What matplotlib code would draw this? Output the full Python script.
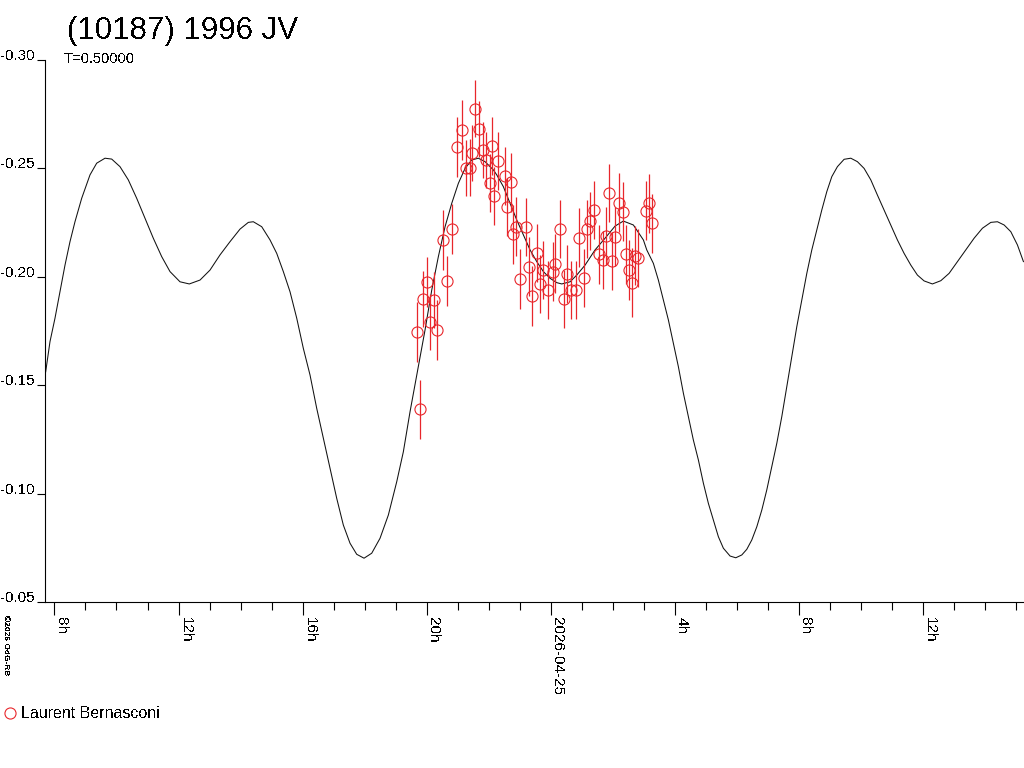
import numpy as np
import matplotlib
matplotlib.use("Agg")
import matplotlib.pyplot as plt
from matplotlib.lines import Line2D

plt.rcParams['font.family'] = ['Liberation Sans', 'DejaVu Sans']
plt.rcParams['axes.unicode_minus'] = False
plt.rcParams['text.antialiased'] = False

# observations (hours since 2026-04-24 00:00 UT, relative magnitude)
obs_hours = [19.70, 19.79, 19.90, 20.01, 20.11, 20.24, 20.35, 20.54, 20.67, 20.81,
             20.97, 21.14, 21.26, 21.40, 21.48, 21.57, 21.69, 21.81, 21.92, 22.05,
             22.12, 22.19, 22.32, 22.52, 22.59, 22.72, 22.80, 22.89, 23.02, 23.22,
             23.31, 23.41, 23.55, 23.66, 23.77, 23.93, 24.07, 24.15, 24.31, 24.44,
             24.52, 24.65, 24.82, 24.93, 25.09, 25.19, 25.28, 25.41, 25.57, 25.68,
             25.79, 25.89, 25.99, 26.08, 26.21, 26.33, 26.44, 26.53, 26.64, 26.73,
             26.83, 27.08, 27.18, 27.28]
obs_mag = [-0.1746, -0.1389, -0.1898, -0.1978, -0.1791, -0.1894, -0.1754, -0.2170, -0.1980, -0.2219,
           -0.2600, -0.2677, -0.2501, -0.2504, -0.2570, -0.2775, -0.2682, -0.2585, -0.2539, -0.2432,
           -0.2604, -0.2373, -0.2534, -0.2465, -0.2321, -0.2436, -0.2196, -0.2232, -0.1989, -0.2229,
           -0.2047, -0.1912, -0.2109, -0.1967, -0.2032, -0.1940, -0.2024, -0.2061, -0.2222, -0.1897,
           -0.2013, -0.1940, -0.1940, -0.2181, -0.1994, -0.2221, -0.2258, -0.2309, -0.2104, -0.2078,
           -0.2189, -0.2388, -0.2073, -0.2185, -0.2342, -0.2301, -0.2104, -0.2032, -0.1973, -0.2098,
           -0.2086, -0.2305, -0.2339, -0.2247]
obs_err = [0.0138, 0.0137, 0.0130, 0.0115, 0.0130, 0.0130, 0.0138, 0.0138, 0.0115, 0.0115,
           0.0138, 0.0138, 0.0130, 0.0130, 0.0130, 0.0131, 0.0130, 0.0130, 0.0130, 0.0135,
           0.0135, 0.0135, 0.0135, 0.0135, 0.0135, 0.0135, 0.0135, 0.0135, 0.0138, 0.0135,
           0.0135, 0.0138, 0.0135, 0.0135, 0.0135, 0.0135, 0.0135, 0.0135, 0.0134, 0.0135,
           0.0135, 0.0135, 0.0135, 0.0135, 0.0135, 0.0135, 0.0135, 0.0135, 0.0135, 0.0135,
           0.0135, 0.0134, 0.0135, 0.0135, 0.0135, 0.0135, 0.0135, 0.0140, 0.0160, 0.0135,
           0.0135, 0.0135, 0.0135, 0.0135]

# fitted model curve
fit_hours = [7.716, 7.855, 8.016, 8.177, 8.339, 8.500, 8.661, 8.877, 9.145, 9.361,
             9.629, 9.845, 10.113, 10.381, 10.652, 10.919, 11.187, 11.458, 11.726, 12.048,
             12.348, 12.694, 13.016, 13.339, 13.661, 13.984, 14.252, 14.413, 14.684, 14.952,
             15.168, 15.381, 15.597, 15.813, 16.026, 16.242, 16.458, 16.671, 16.887, 17.103,
             17.316, 17.532, 17.748, 17.984, 18.232, 18.500, 18.768, 19.039, 19.252, 19.468,
             19.684, 19.952, 20.168, 20.381, 20.597, 20.813, 21.026, 21.242, 21.458, 21.671,
             21.887, 22.155, 22.265, 22.477, 22.694, 22.910, 23.123, 23.339, 23.555, 23.768,
             23.984, 24.200, 24.361, 24.629, 24.845, 25.113, 25.435, 25.758, 26.081, 26.348,
             26.671, 26.887, 26.994, 27.103,
             27.316, 27.477, 27.639, 27.800, 27.961, 28.123, 28.284, 28.445, 28.606, 28.768,
             28.929, 29.090, 29.252, 29.413, 29.574, 29.790, 29.974, 30.168, 30.329, 30.490,
             30.652, 30.813, 30.974, 31.135, 31.297, 31.458, 31.619, 31.781, 31.942, 32.103,
             32.265, 32.426, 32.587, 32.748, 32.910, 33.071, 33.252, 33.468, 33.684, 33.897,
             34.113, 34.329, 34.542, 34.758, 34.974, 35.187, 35.403, 35.619, 35.832, 36.048,
             36.316, 36.587, 36.855, 37.123, 37.394, 37.661, 37.929, 38.200, 38.413, 38.629,
             38.845, 39.058, 39.252]
fit_mag = [-0.1562, -0.1701, -0.1809, -0.1931, -0.2054, -0.2162, -0.2254, -0.2362, -0.2470, -0.2524,
           -0.2547, -0.2543, -0.2508, -0.2447, -0.2362, -0.2270, -0.2178, -0.2093, -0.2024, -0.1977,
           -0.1967, -0.1985, -0.2031, -0.2101, -0.2162, -0.2220, -0.2251, -0.2254, -0.2231, -0.2170,
           -0.2108, -0.2024, -0.1931, -0.1809, -0.1670, -0.1547, -0.1393, -0.1255, -0.1117, -0.0978,
           -0.0855, -0.0771, -0.0720, -0.0702, -0.0725, -0.0794, -0.0901, -0.1055, -0.1193, -0.1378,
           -0.1547, -0.1755, -0.1939, -0.2093, -0.2231, -0.2339, -0.2431, -0.2500, -0.2539, -0.2547,
           -0.2531, -0.2493, -0.2470, -0.2416, -0.2339, -0.2262, -0.2193, -0.2124, -0.2070, -0.2024,
           -0.1993, -0.1973, -0.1967, -0.1977, -0.2008, -0.2054, -0.2124, -0.2178, -0.2234, -0.2257,
           -0.2239, -0.2193, -0.2170, -0.2124,
           -0.2062, -0.1985, -0.1893, -0.1801, -0.1693, -0.1585, -0.1463, -0.1355, -0.1247, -0.1155,
           -0.1048, -0.0955, -0.0878, -0.0801, -0.0748, -0.0712, -0.0704, -0.0717, -0.0743, -0.0786,
           -0.0847, -0.0924, -0.1017, -0.1124, -0.1232, -0.1355, -0.1493, -0.1631, -0.1770, -0.1893,
           -0.2016, -0.2124, -0.2216, -0.2308, -0.2393, -0.2462, -0.2508, -0.2542, -0.2547, -0.2531,
           -0.2500, -0.2447, -0.2377, -0.2308, -0.2239, -0.2170, -0.2108, -0.2054, -0.2008, -0.1981,
           -0.1967, -0.1982, -0.2016, -0.2070, -0.2124, -0.2178, -0.2224, -0.2251, -0.2254, -0.2239,
           -0.2208, -0.2147, -0.2070]

tick_hours = [8, 12, 16, 20, 24, 28, 32, 36]
tick_labels = ['8h', '12h', '16h', '20h', '2026-04-25', '4h', '8h', '12h']
y_ticks = [-0.30, -0.25, -0.20, -0.15, -0.10, -0.05]

red = '#e8262b'

fig = plt.figure(figsize=(10.24, 7.68), dpi=100)
ax = fig.add_axes([45 / 1024, 166 / 768, 979 / 1024, 542 / 768])

ax.plot(fit_hours, fit_mag, color='#111111', lw=0.75)

ax.errorbar(obs_hours, obs_mag, yerr=obs_err, fmt='o', ms=8, mfc='none', mec=red,
            mew=0.8, ecolor=red, elinewidth=0.9, capsize=0)

ax.set_xlim(7.694, 39.27)
ax.set_ylim(-0.05, -0.30)

ax.set_xticks(tick_hours)
ax.set_xticklabels(tick_labels, rotation=270, ha='left', va='top', fontsize=11)
ax.set_xticks(np.arange(8, 40, 1), minor=True)
ax.tick_params(axis='x', which='major', direction='out', length=9.5, width=0.8, pad=1)
ax.tick_params(axis='x', which='minor', direction='out', length=5.5, width=0.8)

ax.set_yticks(y_ticks)
ax.set_yticklabels(['%.2f' % v for v in y_ticks], fontsize=11)
ax.tick_params(axis='y', direction='out', length=6, width=0.8, pad=1.5)
for lbl in ax.get_yticklabels():
    lbl.set_va('baseline')

for side in ('top', 'right'):
    ax.spines[side].set_visible(False)
for side in ('left', 'bottom'):
    ax.spines[side].set_linewidth(0.8)

fig.text(67 / 1024, 1 - 39.5 / 768, '(10187) 1996 JV', fontsize=22.5, va='baseline', ha='left')
fig.text(64 / 1024, 1 - 63.3 / 768, 'T=0.50000', fontsize=10.5, va='baseline', ha='left')

# legend
fig.add_artist(Line2D([9.5 / 1024], [1 - 713.3 / 768], marker='o', ms=8, mfc='none',
                      mec=red, mew=0.8, ls='none', transform=fig.transFigure))
fig.text(21 / 1024, 1 - 718.3 / 768, 'Laurent Bernasconi', fontsize=11.5, va='baseline', ha='left')

fig.text(2 / 1024, 1 - 615 / 768, '\u00a92026 OdG-RB', fontsize=6, fontweight='bold',
         rotation=270, ha='left', va='top')

fig.savefig('out.png', dpi=100)
